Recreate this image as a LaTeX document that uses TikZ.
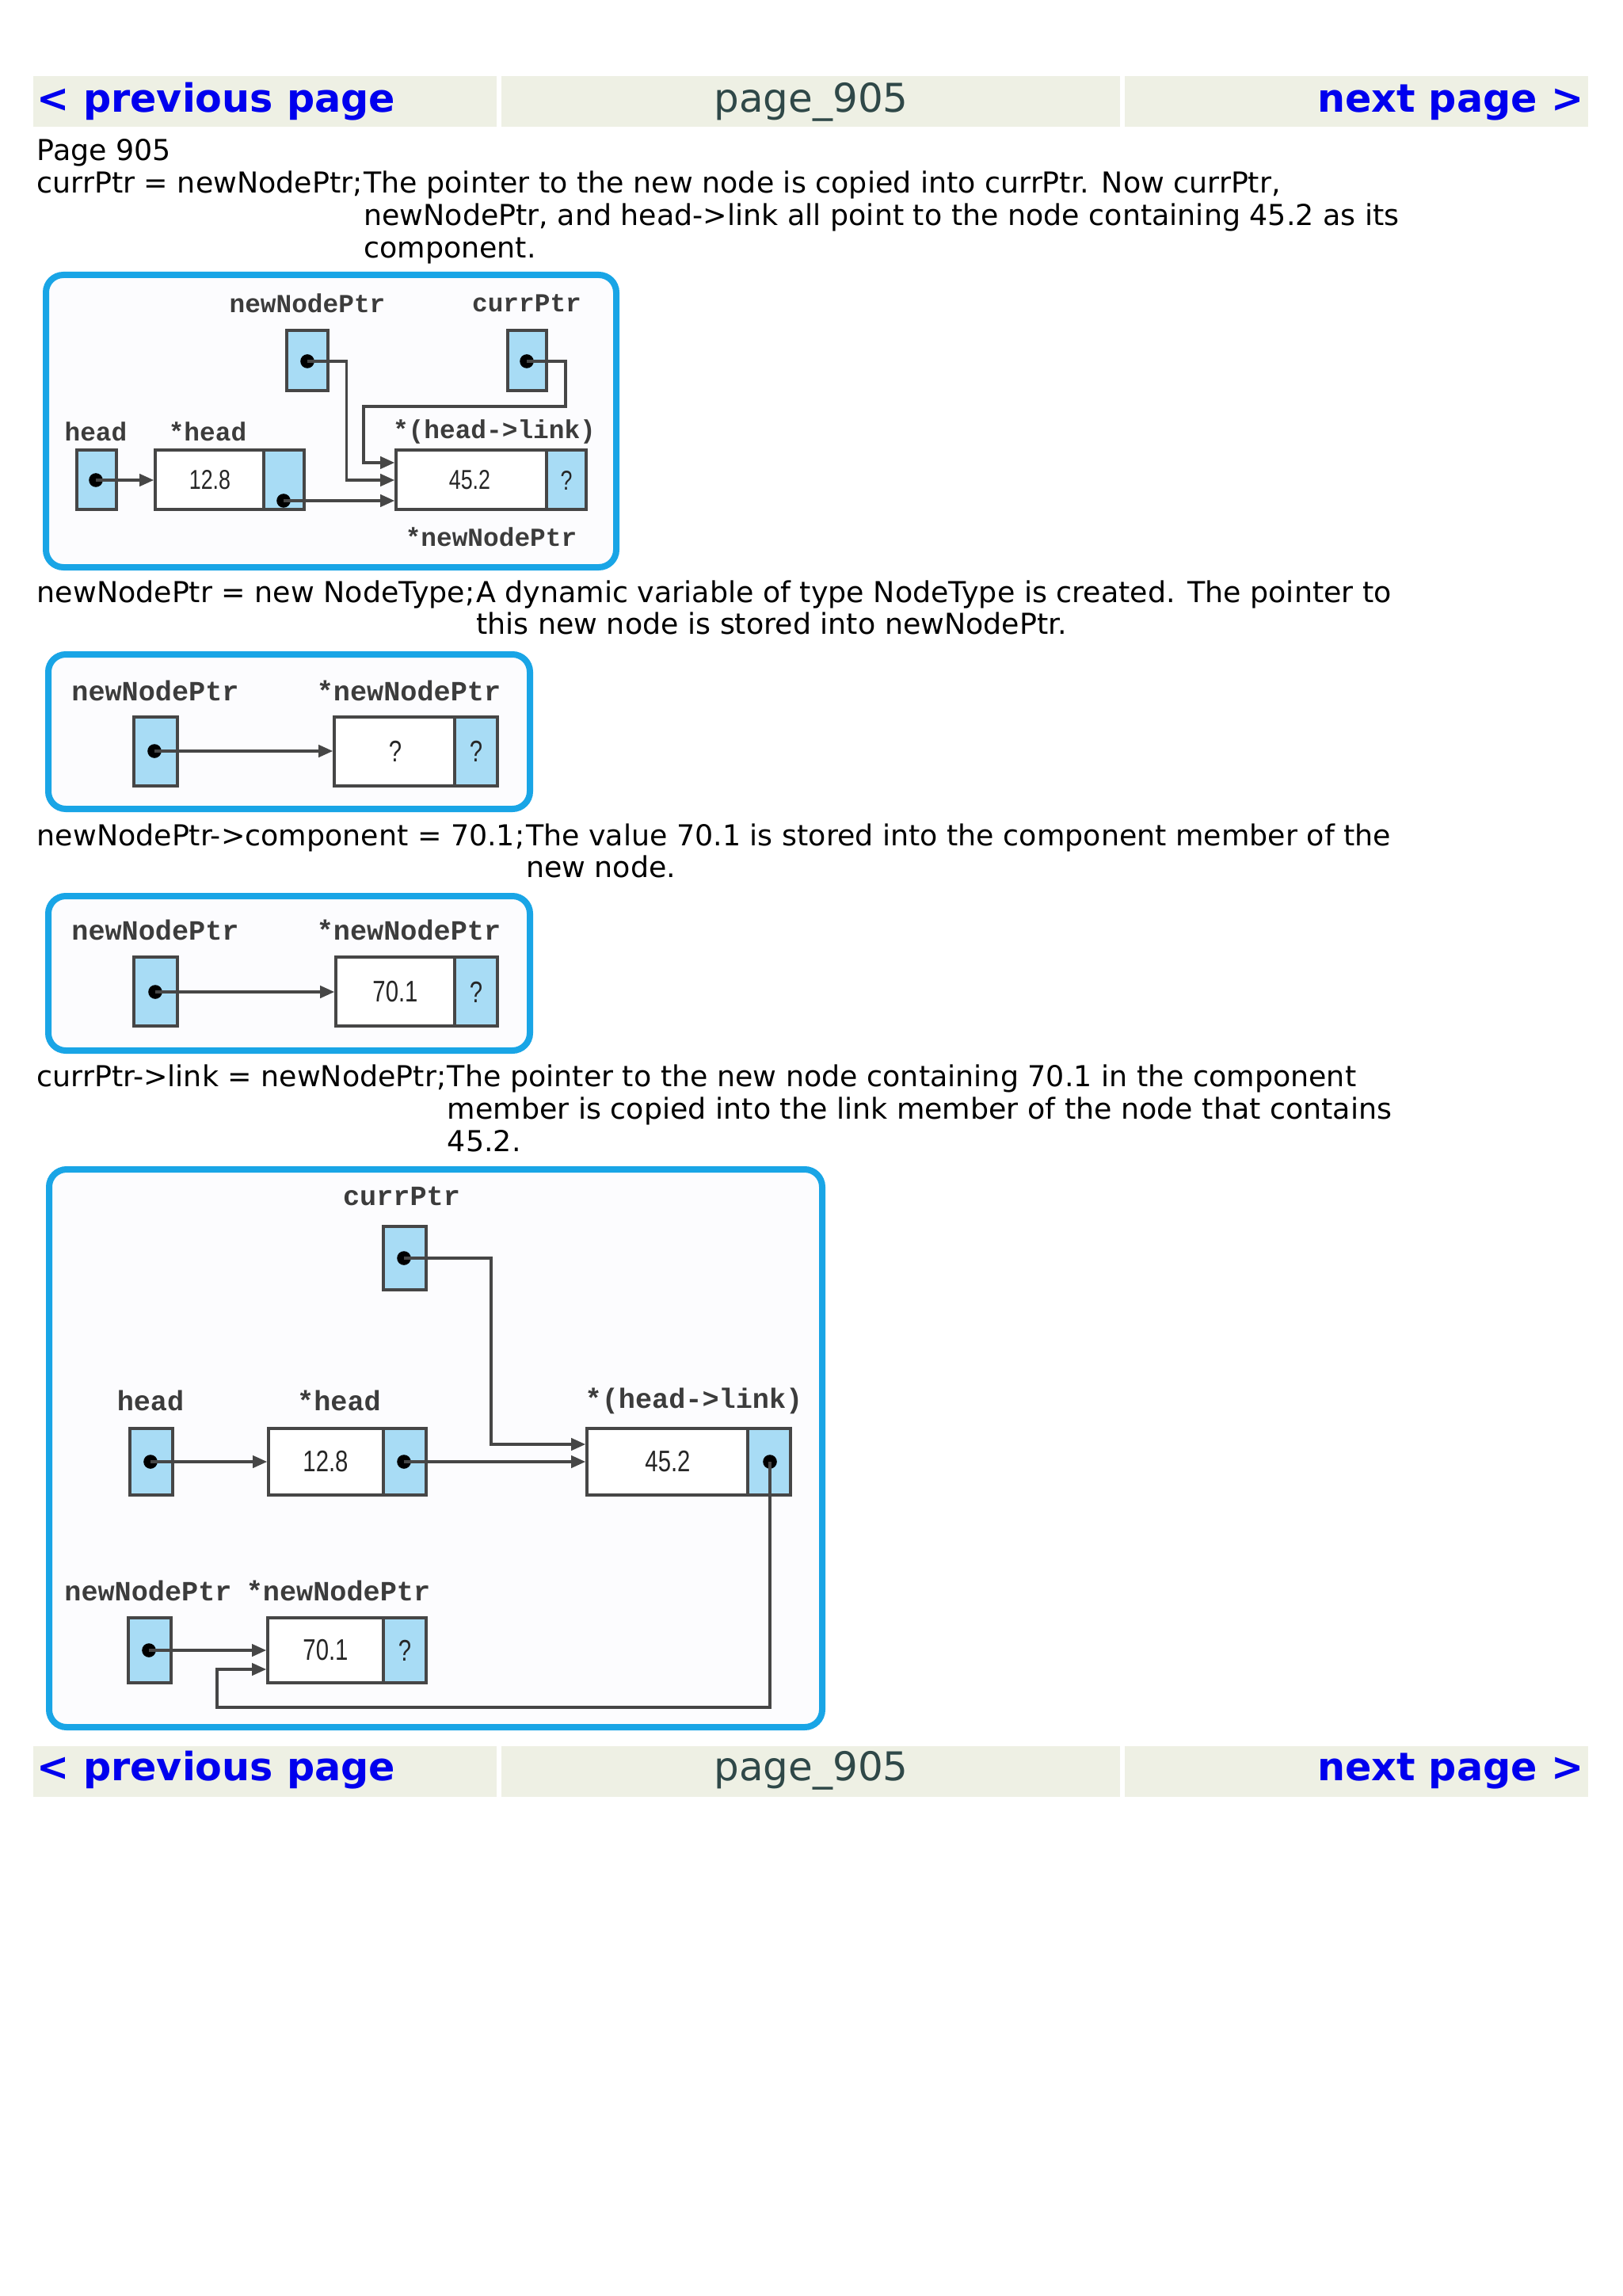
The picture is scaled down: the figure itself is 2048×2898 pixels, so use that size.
\documentclass[tikz,border=0pt]{standalone}
\usepackage{fontspec}
\setmainfont{DejaVu Sans}
\newfontfamily\monof{Liberation Mono}
\newfontfamily\valf[FakeStretch=0.78]{Liberation Sans}
\usetikzlibrary{arrows.meta}
\definecolor{barbg}{RGB}{238,240,228}
\definecolor{linkblue}{RGB}{0,0,238}
\definecolor{pgtxt}{RGB}{47,72,72}
\definecolor{frame}{RGB}{25,165,230}
\definecolor{ptrblue}{RGB}{168,220,245}
\definecolor{edge}{RGB}{70,70,70}
\definecolor{lbl}{RGB}{60,60,60}
\begin{document}
\begin{tikzpicture}[x=0.25pt,y=-0.25pt,
  bar/.style={fill=barbg,draw=none},
  hlink/.style={font=\bfseries\fontsize{12.3}{15}\selectfont,text=linkblue,inner sep=0},
  hpage/.style={font=\fontsize{12.5}{15}\selectfont,text=pgtxt,inner sep=0,anchor=base},
  body/.style={font=\fontsize{9.1}{11}\selectfont,anchor=base west,inner sep=0},
  frm/.style={draw=frame,line width=2pt,rounded corners=5.5pt,fill={rgb,255:red,252;green,252;blue,254}},
  ptr/.style={draw=edge,fill=ptrblue,line width=0.9pt,inner sep=0},
  cell/.style={draw=edge,fill=white,line width=0.9pt,inner sep=0},
  dot/.style={circle,fill=black,inner sep=0,minimum size=4.4pt},
  conn/.style={draw=edge,line width=0.85pt,-{Triangle[length=4.5pt,width=3.8pt]}},
  line/.style={draw=edge,line width=0.85pt},
  lab/.style={font=\monof\bfseries\fontsize{8.2}{9}\selectfont,text=lbl,inner sep=0},
  labb/.style={font=\monof\bfseries\fontsize{8.8}{10}\selectfont,text=lbl,inner sep=0},
  val/.style={font=\valf\fontsize{8.6}{9}\selectfont,text=black!85,inner sep=0},
  valb/.style={font=\valf\fontsize{9.4}{10}\selectfont,text=black!85,inner sep=0}
]
% page
\path[fill=white] (0,0) rectangle (2048,2898);
\useasboundingbox (0,0) rectangle (2048,2898);

% header bar
\path[bar] (42,96) rectangle (627,160);
\path[bar] (633,96) rectangle (1414,160);
\path[bar] (1420,96) rectangle (2005,160);
\node[hlink,anchor=base west] (prevT) at (46,142) {< previous page};
\node[hpage] (pageT) at (1024,142) {page\_905};
\node[hlink,anchor=base east] (nextT) at (2000,142) {next page >};

% texts
\node[body] (pg) at (46,203) {Page 905};
\node[body] (s1) at (46,244) {currPtr = newNodePtr;};
\node[body] (s1a) at (s1.base east) {The pointer to the new node is copied into currPtr. Now currPtr,};
\node[body] (s1b) at (s1a.base west |- 0,285) {newNodePtr, and head->link all point to the node containing 45.2 as its};
\node[body] (s1c) at (s1a.base west |- 0,326) {component.};

% ---------- diagram 1
\draw[frm] (58,347) rectangle (778,716);
\node[lab] (L1a) at (388,383) {newNodePtr};
\node[lab] (L1b) at (665,383) {currPtr};
\node[lab] (L1c) at (121,545) {head};
\node[lab] (L1d) at (262,545) {*head};
\node[lab] (L1e) at (624,545) {*(head->link)};
\node[lab] (L1f) at (620,678) {*newNodePtr};
\node[ptr,minimum width=13pt,minimum height=19pt] (nn1) at (388,455) {};
\node[ptr,minimum width=12.25pt,minimum height=19pt] (cp1) at (665.5,455) {};
\node[ptr,minimum width=12.5pt,minimum height=18.75pt] (hd1) at (122,605.5) {};
\node[cell,minimum width=34.25pt,minimum height=18.75pt] (v12a) at (264.5,605.5) {};
\node[ptr,minimum width=12.75pt,minimum height=18.75pt] (l12a) at (358.5,605.5) {};
\node[cell,minimum width=47.5pt,minimum height=18.75pt] (v45a) at (595,605.5) {};
\node[ptr,minimum width=12.5pt,minimum height=18.75pt] (l45a) at (715,605.5) {};
\node[val] (t12a) at (265,606) {12.8};
\node[val] (t45a) at (593,606) {45.2};
\node[val] (q45a) at (715,606) {?};
\node[dot] (dn1) at (388,456) {};
\node[dot] (dc1) at (665,456) {};
\node[dot] (dh1) at (121,606) {};
\node[dot] (dl1) at (358,632) {};
\coordinate (k1) at (437.5,606);
\coordinate (k2) at (714,513);
\coordinate (k3) at (459,584);
\draw[conn] (dh1.center) -- (dh1.center -| v12a.west);
\draw[conn] (dl1.center) -- (dl1.center -| v45a.west);
\draw[conn] (dn1.center) -| (k1) -- (k1 -| v45a.west);
\draw[conn] (dc1.center) -| (k2) -| (k3) -- (k3 -| v45a.west);

% ---------- text 2
\node[body] (s2) at (46,760) {newNodePtr = new NodeType;};
\node[body] (s2a) at (s2.base east) {A dynamic variable of type NodeType is created. The pointer to};
\node[body] (s2b) at (s2a.base west |- 0,800) {this new node is stored into newNodePtr.};

% ---------- diagram 2
\draw[frm] (61,826) rectangle (669,1021);
\node[labb] (L2a) at (196,872) {newNodePtr};
\node[labb] (L2b) at (516,872) {*newNodePtr};
\node[ptr,minimum width=13.75pt,minimum height=21.75pt] (nn2) at (196.5,948.5) {};
\node[cell,minimum width=38pt,minimum height=21.75pt] (v2) at (498,948.5) {};
\node[ptr,minimum width=13.5pt,minimum height=21.75pt] (l2) at (601,948.5) {};
\node[valb] (q2a) at (499,948) {?};
\node[valb] (q2b) at (601,948) {?};
\node[dot] (dn2) at (195,948) {};
\draw[conn] (dn2.center) -- (dn2.center -| v2.west);

% ---------- text 3
\node[body] (s3) at (46,1067) {newNodePtr->component = 70.1;};
\node[body] (s3a) at (s3.base east) {The value 70.1 is stored into the component member of the};
\node[body] (s3b) at (s3a.base west |- 0,1107) {new node.};

% ---------- diagram 3
\draw[frm] (61,1131) rectangle (669,1326);
\node[labb] (L3a) at (196,1174) {newNodePtr};
\node[labb] (L3b) at (516,1174) {*newNodePtr};
\node[ptr,minimum width=13.75pt,minimum height=21.75pt] (nn3) at (196.5,1251.5) {};
\node[cell,minimum width=37.5pt,minimum height=21.75pt] (v3) at (499,1251.5) {};
\node[ptr,minimum width=13.5pt,minimum height=21.75pt] (l3) at (601,1251.5) {};
\node[valb] (t3) at (499,1252) {70.1};
\node[valb] (q3) at (601,1252) {?};
\node[dot] (dn3) at (196,1252) {};
\draw[conn] (dn3.center) -- (dn3.center -| v3.west);

% ---------- text 4
\node[body] (s4) at (46,1371) {currPtr->link = newNodePtr;};
\node[body] (s4a) at (s4.base east) {The pointer to the new node containing 70.1 in the component};
\node[body] (s4b) at (s4a.base west |- 0,1412) {member is copied into the link member of the node that contains};
\node[body] (s4c) at (s4a.base west |- 0,1453) {45.2.};

% ---------- diagram 4
\draw[frm] (62,1476) rectangle (1038,2180);
\node[labb] (L4a) at (507,1510) {currPtr};
\node[labb] (L4b) at (190,1768) {head};
\node[labb] (L4c) at (428,1768) {*head};
\node[labb] (L4d) at (876,1768) {*(head->link)};
\node[labb] (L4e) at (187,2008) {newNodePtr};
\node[labb] (L4f) at (427,2008) {*newNodePtr};
\node[ptr,minimum width=13.5pt,minimum height=20pt] (cp4) at (511,1588) {};
\node[ptr,minimum width=13.5pt,minimum height=21pt] (hd4) at (191,1845) {};
\node[cell,minimum width=36.25pt,minimum height=21pt] (v12d) at (411.5,1845) {};
\node[ptr,minimum width=13.5pt,minimum height=21pt] (l12d) at (511,1845) {};
\node[cell,minimum width=50.75pt,minimum height=21pt] (v45d) at (842.5,1845) {};
\node[ptr,minimum width=13.5pt,minimum height=21pt] (l45d) at (971,1845) {};
\node[ptr,minimum width=13.5pt,minimum height=20.5pt] (nn4) at (189,2083) {};
\node[cell,minimum width=36.5pt,minimum height=20.5pt] (v70d) at (411,2083) {};
\node[ptr,minimum width=13.5pt,minimum height=20.5pt] (l70d) at (511,2083) {};
\node[valb] (t12d) at (411,1845) {12.8};
\node[valb] (t45d) at (843,1845) {45.2};
\node[valb] (t70d) at (411,2083) {70.1};
\node[valb] (q70d) at (511,2083) {?};
\node[dot] (dc4) at (510,1588) {};
\node[dot] (dh4) at (190,1845) {};
\node[dot] (dl12) at (510,1845) {};
\node[dot] (dl45) at (972,1845) {};
\node[dot] (dn4) at (188,2083) {};
\coordinate (m1) at (620,1823);
\coordinate (m2) at (972,2155);
\coordinate (m3) at (274,2107);
\draw[conn] (dc4.center) -| (m1) -- (m1 -| v45d.west);
\draw[conn] (dh4.center) -- (dh4.center -| v12d.west);
\draw[conn] (dl12.center) -- (dl12.center -| v45d.west);
\draw[conn] (dn4.center) -- (dn4.center -| v70d.west);
\draw[conn] (dl45.center) -- (m2) -| (m3) -- (m3 -| v70d.west);

% footer bar
\path[bar] (42,2204) rectangle (627,2268);
\path[bar] (633,2204) rectangle (1414,2268);
\path[bar] (1420,2204) rectangle (2005,2268);
\node[hlink,anchor=base west] (prevB) at (46,2247) {< previous page};
\node[hpage] (pageB) at (1024,2247) {page\_905};
\node[hlink,anchor=base east] (nextB) at (2000,2247) {next page >};
\end{tikzpicture}
\end{document}
